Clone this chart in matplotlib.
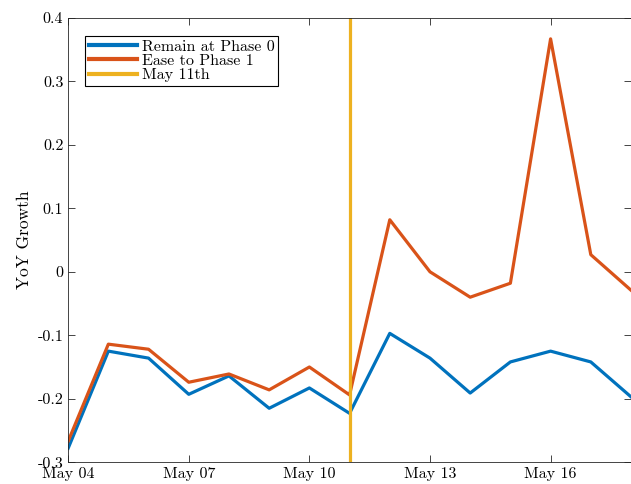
import numpy as np
import pandas as pd
import matplotlib
matplotlib.use("Agg")
import matplotlib.pyplot as plt
import matplotlib.dates as mdates
from matplotlib.ticker import FuncFormatter, MultipleLocator

dates = pd.date_range("2020-05-04", "2020-05-18", freq="D")
remain = [-0.278, -0.125, -0.136, -0.193, -0.164, -0.215, -0.183, -0.223,
          -0.097, -0.136, -0.191, -0.142, -0.125, -0.142, -0.197]
ease = [-0.267, -0.114, -0.122, -0.174, -0.161, -0.186, -0.150, -0.194,
        0.082, 0.000, -0.040, -0.018, 0.367, 0.027, -0.029]
cutoff = pd.Timestamp("2020-05-11")

plt.rcParams["font.family"] = ["cmr10", "DejaVu Serif"]
plt.rcParams["axes.unicode_minus"] = False
plt.rcParams["axes.formatter.use_mathtext"] = True

fig = plt.figure(figsize=(6.31, 4.84), dpi=100)
ax = fig.add_axes([0.108, 0.045, 0.892, 0.918])

ax.plot(dates, remain, color="#0072BD", lw=2.3, label="Remain at Phase 0")
ax.plot(dates, ease, color="#D95319", lw=2.3, label="Ease to Phase 1")
ax.axvline(cutoff, color="#EDB120", lw=2.3, label="May 11th")

ax.set_xlim(dates[0], dates[-1])
ax.set_ylim(-0.3, 0.4)
ax.set_xticks(dates[::3])
ax.xaxis.set_major_formatter(mdates.DateFormatter("%b %d"))
ax.yaxis.set_major_locator(MultipleLocator(0.1))
ax.yaxis.set_major_formatter(FuncFormatter(lambda v, p: f"{v:.1f}".rstrip("0").rstrip(".") if abs(v) > 1e-9 else "0"))
ax.set_ylabel("YoY Growth", fontsize=12.5)

ax.tick_params(direction="in", top=True, right=True, labelsize=11.5, colors="#262626", length=5, width=0.6)
ax.tick_params(labelcolor="black")
for s in ax.spines.values():
    s.set_color("#262626")
    s.set_linewidth(0.6)

leg = ax.legend(loc="upper left", bbox_to_anchor=(0.03, 0.96), fontsize=11.5, frameon=True, fancybox=False,
                edgecolor="black", framealpha=1, handlelength=3.0, handletextpad=0.3,
                labelspacing=0.0, borderpad=0.25, borderaxespad=0)
leg.get_frame().set_linewidth(0.8)
for h in leg.get_lines():
    h.set_linewidth(3)

fig.savefig("out.png", dpi=100)
